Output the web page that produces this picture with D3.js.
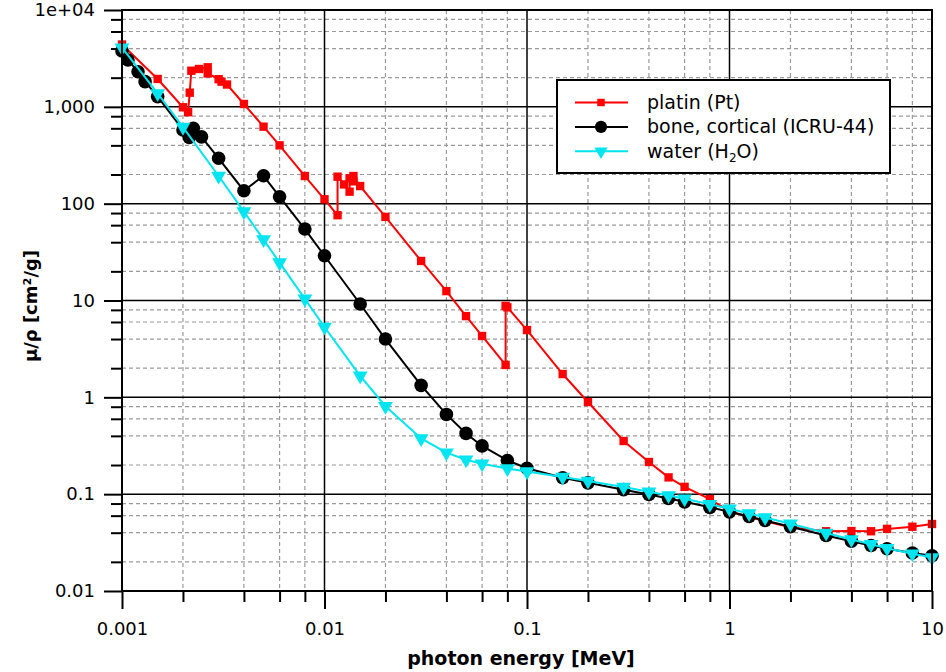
<!DOCTYPE html>
<html>
<head>
<meta charset="utf-8">
<script src="https://cdn.jsdelivr.net/npm/d3@7"></script>
<style>
  body { margin: 0; background: #fff; }
  text { font-family: "DejaVu Sans", Verdana, sans-serif; fill: #000; }
</style>
</head>
<body>
<svg id="chart" width="946" height="672"></svg>
<script>
// photon energy [MeV] / mass attenuation coefficient [cm2/g]
const ptEnergy = [0.001, 0.0015, 0.002, 0.00212, 0.00216, 0.0022, 0.0024, 0.00265, 0.00265, 0.003, 0.0031, 0.0033,
  0.004, 0.005, 0.006, 0.008, 0.01, 0.0116, 0.0116, 0.0125, 0.0133, 0.0133, 0.0139, 0.0139, 0.015, 0.02,
  0.03, 0.04, 0.05, 0.06, 0.0784, 0.0784, 0.08, 0.1, 0.15, 0.2, 0.3, 0.4, 0.5, 0.6, 0.8,
  1, 1.25, 1.5, 2, 3, 4, 5, 6, 8, 10];
const ptMu = [4400, 1940, 990, 880, 1400, 2360, 2460, 2560, 2210, 1930, 1820, 1700,
  1070, 624, 400, 193, 111, 76, 190, 158, 133, 183, 170, 193, 152, 73,
  25.6, 12.5, 6.9, 4.3, 2.16, 8.8, 8.5, 4.95, 1.74, 0.895, 0.354, 0.215, 0.149, 0.119, 0.089,
  0.0665, 0.058, 0.0525, 0.0455, 0.0414, 0.0416, 0.0414, 0.0438, 0.0461, 0.0492];

const boneEnergy = [0.001, 0.00107, 0.0012, 0.0013, 0.0015, 0.002, 0.00215, 0.00225, 0.00247, 0.003,
  0.004, 0.005, 0.006, 0.008, 0.01, 0.015, 0.02, 0.03, 0.04, 0.05, 0.06, 0.08, 0.1,
  0.15, 0.2, 0.3, 0.4, 0.5, 0.6, 0.8, 1, 1.25, 1.5, 2, 3, 4, 5, 6, 8, 10];
const boneMu = [3780, 3050, 2300, 1820, 1275, 577, 484, 600, 490, 294,
  136, 194, 118, 54.7, 29, 9.2, 4.0, 1.33, 0.666, 0.424, 0.315, 0.223, 0.1855,
  0.148, 0.1309, 0.1113, 0.0991, 0.0902, 0.0833, 0.0731, 0.0657, 0.0587, 0.0535, 0.0461, 0.0375, 0.0326, 0.0295, 0.0273, 0.0247, 0.0231];

const waterEnergy = [0.001, 0.0015, 0.002, 0.003, 0.004, 0.005, 0.006, 0.008, 0.01, 0.015, 0.02,
  0.03, 0.04, 0.05, 0.06, 0.08, 0.1, 0.15, 0.2, 0.3, 0.4, 0.5, 0.6, 0.8,
  1, 1.25, 1.5, 2, 3, 4, 5, 6, 8, 10];
const waterMu = [4078, 1376, 617, 193, 82.8, 42.6, 24.6, 10.4, 5.33, 1.67, 0.81,
  0.376, 0.268, 0.227, 0.206, 0.184, 0.171, 0.1505, 0.137, 0.1186, 0.1061, 0.0969, 0.0896, 0.0787,
  0.0707, 0.0632, 0.0575, 0.0494, 0.0397, 0.034, 0.0303, 0.0277, 0.0243, 0.0222];

const seriesNames = ["platin (Pt)", "bone, cortical (ICRU-44)", "water (H2O)"];
const xTicks = [0.001, 0.01, 0.1, 1, 10];
const xTickLabels = ["0.001", "0.01", "0.1", "1", "10"];
const yTicks = [1e4, 1e3, 100, 10, 1, 0.1, 0.01];
const yTickLabels = ["1e+04", "1,000", "100", "10", "1", "0.1", "0.01"];
const minorSteps = [2, 4, 6, 8];

const plot = { left: 122, right: 932, top: 10, bottom: 591 };

const svg = d3.select('#chart');

const x = d3.scaleLog().domain([0.001, 10]).range([plot.left, plot.right]);
const y = d3.scaleLog().domain([0.01, 1e4]).range([plot.bottom, plot.top]);

const minorOf = (majors) => majors.slice(0, -1).flatMap(d => minorSteps.map(m => d * m));
const xMinor = minorOf(xTicks);
const yMinor = minorOf(yTicks.slice().reverse());

// grid
const grid = svg.append('g').attr('class', 'grid');
grid.selectAll('.xminor').data(xMinor).enter().append('line')
  .attr('x1', d => x(d)).attr('x2', d => x(d))
  .attr('y1', plot.top).attr('y2', plot.bottom)
  .attr('stroke', '#9a9a9a').attr('stroke-width', 1.2).attr('stroke-dasharray', '4,3');
grid.selectAll('.yminor').data(yMinor).enter().append('line')
  .attr('x1', plot.left).attr('x2', plot.right)
  .attr('y1', d => y(d)).attr('y2', d => y(d))
  .attr('stroke', '#9a9a9a').attr('stroke-width', 1.2).attr('stroke-dasharray', '4,3');
grid.selectAll('.xmajor').data(xTicks.slice(1, -1)).enter().append('line')
  .attr('x1', d => x(d)).attr('x2', d => x(d))
  .attr('y1', plot.top).attr('y2', plot.bottom)
  .attr('stroke', '#000').attr('stroke-width', 1.5);
grid.selectAll('.ymajor').data(yTicks.slice(1, -1)).enter().append('line')
  .attr('x1', plot.left).attr('x2', plot.right)
  .attr('y1', d => y(d)).attr('y2', d => y(d))
  .attr('stroke', '#000').attr('stroke-width', 1.5);

// axes
const styleAxis = (g) => {
  g.select('.domain').remove();
  g.selectAll('line').attr('stroke', '#000').attr('stroke-width', 2);
  g.selectAll('text').attr('font-size', 18).attr('font-family', '"DejaVu Sans", Verdana, sans-serif');
};

svg.append('g')
  .attr('transform', `translate(${plot.left},0)`)
  .call(d3.axisLeft(y).tickValues(yMinor).tickSize(11).tickFormat(''))
  .call(styleAxis);
svg.append('g')
  .attr('transform', `translate(${plot.left},0)`)
  .call(d3.axisLeft(y).tickValues(yTicks).tickSize(18).tickPadding(9)
    .tickFormat((d, i) => yTickLabels[i]))
  .call(styleAxis);

svg.append('g')
  .attr('transform', `translate(0,${plot.bottom})`)
  .call(d3.axisBottom(x).tickValues(xMinor).tickSize(11).tickFormat(''))
  .call(styleAxis);
svg.append('g')
  .attr('transform', `translate(0,${plot.bottom})`)
  .call(d3.axisBottom(x).tickValues(xTicks).tickSize(18).tickPadding(13)
    .tickFormat((d, i) => xTickLabels[i]))
  .call(styleAxis);

// series
const series = [
  { name: seriesNames[0], e: ptEnergy, mu: ptMu, color: '#ff0000', symbol: d3.symbolSquare, size: 70, rot: 0 },
  { name: seriesNames[1], e: boneEnergy, mu: boneMu, color: '#000000', symbol: d3.symbolCircle, size: 145, rot: 0 },
  { name: seriesNames[2], e: waterEnergy, mu: waterMu, color: '#00e5ef', symbol: d3.symbolTriangle, size: 95, rot: 180 }
];

const line = d3.line()
  .x(d => x(d[0]))
  .y(d => y(d[1]));

const SeriesG = svg.append('g').attr('class', 'series');
series.forEach(s => {
  const pts = d3.zip(s.e, s.mu);
  const g = SeriesG.append('g');
  g.append('path')
    .attr('d', line(pts))
    .attr('fill', 'none')
    .attr('stroke', s.color)
    .attr('stroke-width', 2);
  g.selectAll('path.mark').data(pts).enter().append('path')
    .attr('class', 'mark')
    .attr('d', d3.symbol().type(s.symbol).size(s.size))
    .attr('transform', d => `translate(${x(d[0])},${y(d[1])}) rotate(${s.rot})`)
    .attr('fill', s.color);
});

// frame
svg.append('rect')
  .attr('x', plot.left).attr('y', plot.top)
  .attr('width', plot.right - plot.left).attr('height', plot.bottom - plot.top)
  .attr('fill', 'none').attr('stroke', '#000').attr('stroke-width', 2);

// legend
const legend = svg.append('g').attr('transform', 'translate(557,80)');
legend.append('rect')
  .attr('width', 333).attr('height', 93)
  .attr('fill', '#fff').attr('stroke', '#000').attr('stroke-width', 2);
series.forEach((s, i) => {
  const ly = 22.5 + i * 24.4;
  legend.append('line')
    .attr('x1', 18).attr('x2', 71).attr('y1', ly).attr('y2', ly)
    .attr('stroke', s.color).attr('stroke-width', 2);
  legend.append('path')
    .attr('d', d3.symbol().type(s.symbol).size(s.size * 0.8))
    .attr('transform', `translate(44,${ly}) rotate(${s.rot})`)
    .attr('fill', s.color);
  const t = legend.append('text')
    .attr('x', 90).attr('y', ly + 6.5)
    .attr('font-size', 19);
  if (i === 2) {
    t.append('tspan').text('water (H');
    t.append('tspan').attr('font-size', 12).attr('dy', 4).text('2');
    t.append('tspan').attr('dy', -4).text('O)');
  } else {
    t.text(s.name);
  }
});

// axis titles
svg.append('text')
  .attr('x', 521).attr('y', 665)
  .attr('text-anchor', 'middle')
  .attr('font-size', 19).attr('font-weight', 'bold')
  .text('photon energy [MeV]');

svg.append('text')
  .attr('transform', 'translate(37,306) rotate(-90)')
  .attr('text-anchor', 'middle')
  .attr('font-size', 18).attr('font-weight', 'bold')
  .text('μ/ρ [cm²/g]');
</script>
</body>
</html>
